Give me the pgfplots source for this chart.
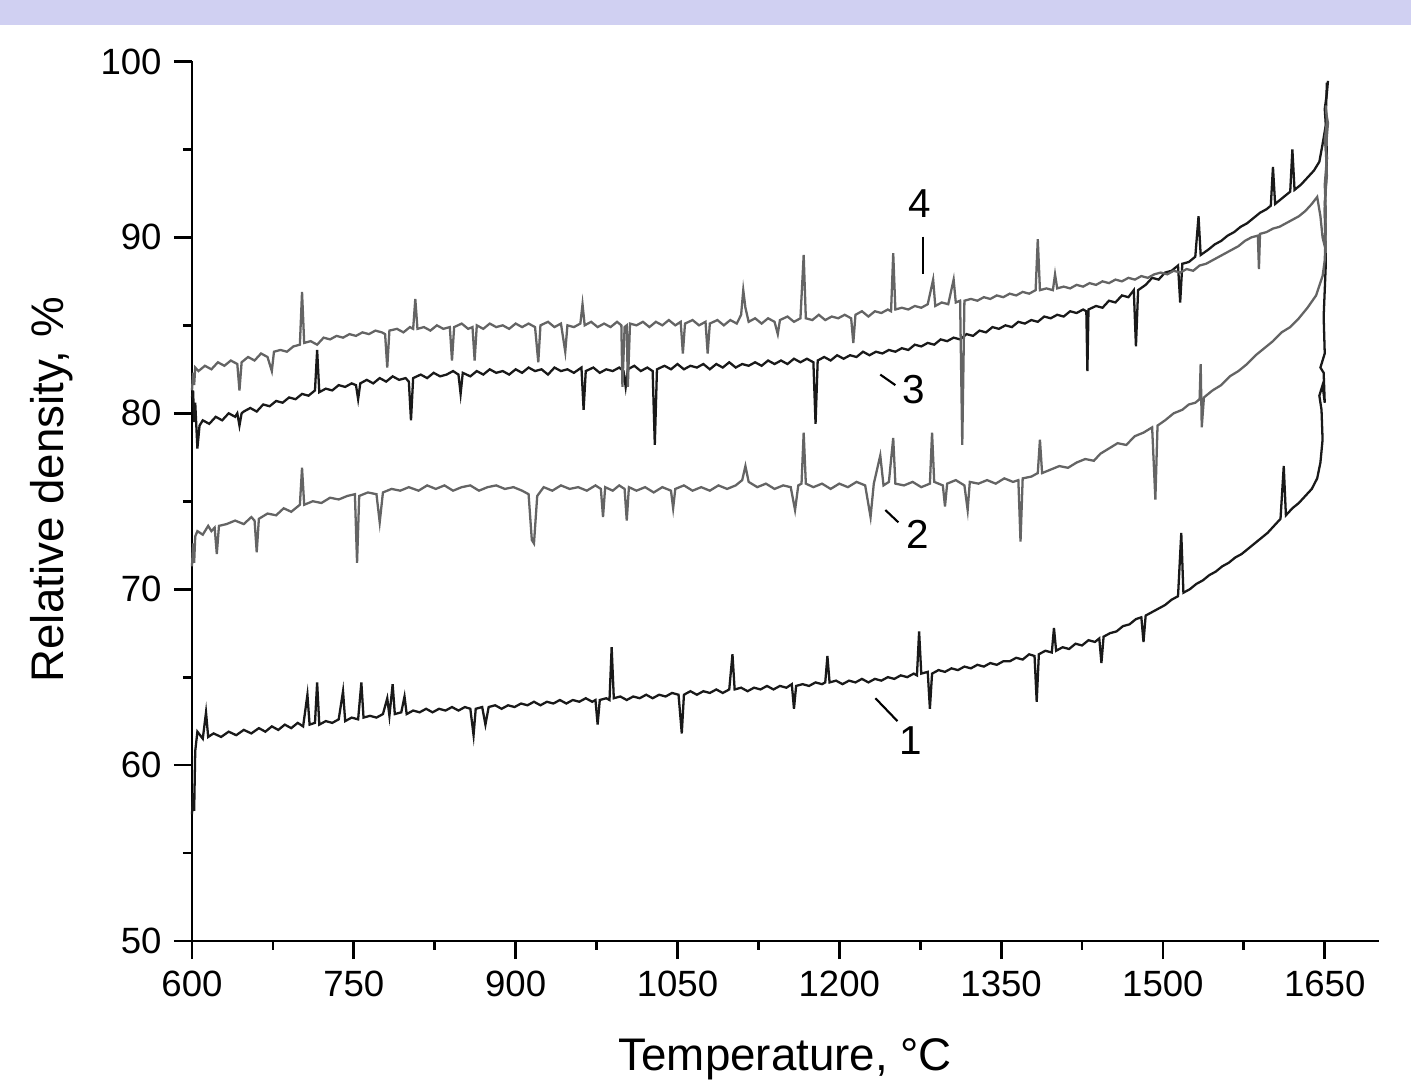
\documentclass[border=0pt]{standalone}
\usepackage{pgfplots}
\pgfplotsset{compat=1.18}
\usepackage{fontspec}
\setmainfont{Liberation Sans}
\definecolor{band}{RGB}{208,208,242}
\definecolor{cblack}{RGB}{25,25,25}
\definecolor{cgray}{RGB}{100,100,100}
\begin{document}
\begin{tikzpicture}
\begin{axis}[
  name=ax, scale only axis,
  width=11.86cm, height=8.79cm,
  xmin=600, xmax=1700, ymin=50, ymax=100,
  axis lines*=left,
  axis line style={line width=0.8pt},
  xtick={600,750,...,1650}, ytick={50,60,...,100},
  minor x tick num=1, minor y tick num=1,
  tick align=outside,
  major tick length=1.8mm, minor tick length=0.9mm,
  every tick/.style={line width=0.8pt, black},
  tick label style={font=\fontsize{10.4}{12}\selectfont},
  /pgf/number format/assume math mode=true,
  /pgf/number format/1000 sep={},
  xlabel={Temperature, °C}, ylabel={Relative density, \%},
  label style={font=\fontsize{13}{15}\selectfont},
  xlabel style={at={(axis description cs:0.5,-0.135)}, anchor=center},
  ylabel style={at={(axis description cs:-0.118,0.513)}, anchor=center},
  clip=false,
]
% curve 1
\addplot[cblack, line width=0.65pt] coordinates {
(600,57.2) (601,58.4) (602,57.4) (603,60.8) (605,61.9) (610,61.5) (613,63.0) (615,61.6) (620,61.8) (627,61.6) (634,61.9) (641,61.7) (648,62.0) (655,61.8) (662,62.1) (668,61.9) (674,62.2) (680,62.0) (686,62.3) (692,62.1) (698,62.4) (703,62.2) (707,64.0) (709,62.3) (714,62.4) (716,64.7) (718,62.3) (724,62.5) (730,62.4) (736,62.6) (740,64.2) (742,62.5) (748,62.7) (754,62.6) (757,64.7) (759,62.7) (765,62.8) (771,62.7) (777,62.9) (781,63.8) (783,62.8) (786,64.6) (788,62.9) (794,63.0) (797,63.9) (799,62.9)
(805,63.1) (811,63.0) (817,63.2) (823,63.0) (829,63.2) (835,63.1) (841,63.3) (847,63.1) (853,63.3) (858,63.2) (861,61.7) (863,63.2) (869,63.3) (872,62.3) (875,63.3) (881,63.4) (887,63.2) (893,63.4) (899,63.3) (905,63.5) (911,63.4) (917,63.6) (923,63.4) (929,63.6) (935,63.5) (941,63.7) (947,63.5) (953,63.7) (959,63.6) (965,63.8) (971,63.6) (974,63.7) (976,62.3) (978,63.7) (984,63.8) (987,63.7) (989,66.7) (991,63.8) (997,63.9)
(1003,63.7) (1009,63.9) (1015,63.8) (1021,64.0) (1027,63.8) (1033,64.0) (1039,63.9) (1045,64.1) (1051,64.0) (1054,61.8) (1056,64.0) (1062,64.2) (1068,64.0) (1074,64.2) (1080,64.1) (1086,64.3) (1092,64.1) (1098,64.3) (1101,66.3) (1103,64.3) (1109,64.4) (1115,64.2) (1121,64.4) (1127,64.3) (1133,64.5) (1139,64.3) (1145,64.5) (1151,64.4) (1156,64.6) (1158,63.2) (1160,64.5) (1166,64.6) (1172,64.5) (1178,64.7) (1184,64.6) (1187,64.7) (1189,66.2) (1191,64.7) (1197,64.8)
(1203,64.6) (1209,64.8) (1215,64.7) (1221,64.9) (1227,64.7) (1233,64.9) (1239,64.8) (1245,65.0) (1251,64.9) (1257,65.1) (1263,65.0) (1269,65.2) (1272,65.1) (1274,67.6) (1276,65.2) (1282,65.3) (1284,63.2) (1286,65.2) (1292,65.4) (1298,65.3) (1304,65.5) (1310,65.4) (1316,65.6) (1322,65.5) (1328,65.7) (1334,65.6) (1340,65.8) (1346,65.7) (1352,65.9) (1358,65.9) (1364,66.1) (1370,66.0) (1376,66.3) (1381,66.2) (1383,63.6) (1385,66.3) (1391,66.5) (1397,66.4) (1399,67.8)
(1401,66.5) (1407,66.7) (1413,66.6) (1419,66.9) (1425,66.8) (1431,67.1) (1437,67.0) (1441,67.2) (1443,65.8) (1445,67.3) (1451,67.5) (1457,67.6) (1463,67.9) (1469,68.0) (1475,68.3) (1480,68.4) (1482,67.0) (1484,68.5) (1490,68.7) (1496,68.9) (1502,69.1) (1508,69.4) (1514,69.6) (1517,73.2) (1519,69.8) (1525,70.0) (1531,70.3) (1537,70.5) (1543,70.8) (1549,71.0) (1555,71.3) (1561,71.5) (1567,71.8) (1573,72.0) (1579,72.3) (1585,72.6) (1591,72.9) (1597,73.2)
(1603,73.6) (1609,74.0) (1612,77.0) (1614,74.2) (1620,74.6) (1626,74.9) (1632,75.3) (1638,75.7) (1643,76.3) (1646,77.2) (1648,78.5) (1647,80.2) (1645,81.0) (1648,81.6) (1650,80.6) (1649,82.3) (1646,82.6) (1650,83.4) (1649,85.5) (1651,88.5) (1650,91.5) (1652,94.5) (1651,97.0) (1652,98.8)
};
% curve 2
\addplot[cgray, line width=0.65pt] coordinates {
(600,71.3) (601,72.6) (602,71.5) (603,73.0) (605,73.3) (610,73.1) (615,73.6) (618,73.3) (621,73.5) (623,72.0) (625,73.6) (632,73.7) (640,73.9) (648,73.7) (655,74.1) (658,73.9) (660,72.1) (662,74.0) (670,74.3) (678,74.2) (685,74.6) (692,74.4) (700,74.8) (702,76.9) (704,74.8) (712,75.0) (720,74.9) (728,75.2) (736,75.1) (744,75.3) (751,75.4) (753,71.5) (755,75.3) (763,75.5) (771,75.4) (774,73.8) (777,75.5) (785,75.7) (793,75.6)
(801,75.8) (810,75.6) (818,75.9) (826,75.7) (834,75.9) (842,75.6) (850,75.8) (858,75.9) (866,75.6) (874,75.8) (882,75.9) (890,75.7) (898,75.8) (906,75.6) (912,75.4) (915,72.8) (917,72.6) (920,75.3) (926,75.8) (934,75.6) (942,75.9) (950,75.7) (958,75.8) (966,75.6) (974,75.9) (979,75.7) (981,74.1) (983,75.8) (990,75.6) (996,75.9)
(1001,75.7) (1003,73.9) (1005,75.8) (1012,75.6) (1020,75.8) (1028,75.5) (1036,75.8) (1044,75.6) (1046,74.6) (1048,75.7) (1056,75.9) (1064,75.6) (1072,75.8) (1080,75.6) (1088,75.9) (1096,75.7) (1104,75.9) (1110,76.2) (1113,77.0) (1116,76.1) (1124,75.8) (1132,76.0) (1140,75.7) (1148,75.9) (1155,75.8) (1159,74.5) (1162,75.9) (1165,76.0) (1167,78.9) (1169,76.0) (1176,75.8) (1184,76.0) (1192,75.7)
(1200,76.0) (1208,75.8) (1216,76.1) (1224,75.9) (1229,74.1) (1232,76.0) (1238,77.6) (1241,75.9) (1246,76.1) (1250,78.6) (1252,76.0) (1260,75.9) (1268,76.1) (1276,75.8) (1284,76.0) (1286,78.9) (1288,76.1) (1296,75.9) (1298,74.7) (1300,76.0) (1308,76.2) (1316,75.9) (1319,74.5) (1321,76.1) (1329,76.0) (1337,76.2) (1345,76.0) (1353,76.3) (1361,76.1) (1366,76.2) (1368,72.7) (1370,76.3) (1378,76.4) (1384,76.6) (1386,78.5) (1388,76.6) (1396,76.8)
(1404,77.0) (1412,76.9) (1420,77.2) (1428,77.4) (1436,77.3) (1442,77.7) (1450,78.0) (1458,78.3) (1466,78.2) (1474,78.7) (1482,78.9) (1490,79.2) (1493,75.1) (1495,79.3) (1502,79.6) (1510,80.0) (1518,80.2) (1524,80.5) (1530,80.6) (1534,80.8) (1535,82.8) (1536,79.2) (1538,80.9) (1546,81.3) (1554,81.6) (1562,82.1) (1570,82.4) (1578,82.8) (1586,83.3) (1594,83.7)
(1602,84.1) (1610,84.6) (1618,84.9) (1626,85.4) (1634,86.0) (1642,86.7) (1648,87.8) (1650,88.7) (1651,90.5) (1650,92.0) (1652,93.5) (1651,95.0) (1653,96.5) (1651,97.2)
};
% curve 3
\addplot[cblack, line width=0.65pt] coordinates {
(600,80.9) (601,81.3) (602,79.5) (603,80.6) (605,78.0) (607,79.3) (610,79.6) (616,79.4) (622,79.8) (628,79.6) (634,80.0) (640,79.8) (642,80.0) (644,79.3) (646,80.0) (648,80.1) (654,80.3) (660,80.1) (666,80.5) (672,80.4) (678,80.7) (684,80.6) (690,80.9) (696,80.8) (702,81.1) (708,81.0) (714,81.3) (716,83.6) (718,81.2) (724,81.4) (730,81.3) (736,81.6) (742,81.5) (748,81.7) (752,81.6) (754,80.8) (756,81.7) (762,81.9) (768,81.7) (774,82.0) (780,81.8) (786,82.1) (792,81.9) (798,82.0)
(801,81.8) (803,79.6) (805,82.0) (812,82.2) (818,82.0) (824,82.3) (830,82.1) (836,82.2) (842,82.4) (847,82.2) (849,81.1) (851,82.3) (858,82.1) (864,82.4) (870,82.2) (876,82.5) (882,82.3) (888,82.4) (894,82.2) (900,82.5) (906,82.3) (912,82.6) (918,82.4) (924,82.5) (930,82.2) (936,82.6) (942,82.4) (948,82.5) (954,82.3) (961,82.6) (963,80.2) (965,82.4) (972,82.6) (978,82.3) (984,82.5) (990,82.4) (996,82.6)
(1000,82.4) (1002,81.5) (1004,82.5) (1010,82.7) (1016,82.4) (1022,82.6) (1027,82.4) (1029,78.2) (1031,82.5) (1038,82.7) (1044,82.5) (1050,82.8) (1056,82.5) (1062,82.7) (1068,82.6) (1074,82.8) (1080,82.5) (1086,82.8) (1092,82.6) (1098,82.9) (1104,82.6) (1110,82.8) (1116,82.7) (1122,82.9) (1128,82.7) (1134,83.0) (1140,82.8) (1146,83.0) (1152,82.8) (1158,83.1) (1164,82.9) (1170,83.1) (1176,82.9) (1178,79.4) (1180,83.0) (1186,83.2) (1192,83.0) (1198,83.3)
(1204,83.1) (1210,83.3) (1216,83.2) (1222,83.5) (1228,83.3) (1234,83.5) (1240,83.4) (1246,83.6) (1252,83.5) (1258,83.7) (1264,83.6) (1270,83.9) (1276,83.8) (1282,84.0) (1288,83.9) (1294,84.2) (1300,84.1) (1306,84.3) (1312,84.2) (1318,84.5) (1324,84.4) (1330,84.7) (1336,84.6) (1342,84.9) (1348,84.8) (1354,85.0) (1360,84.9) (1366,85.2) (1372,85.1) (1378,85.3) (1384,85.2) (1390,85.5) (1396,85.4)
(1402,85.6) (1408,85.5) (1414,85.8) (1420,85.7) (1426,85.9) (1429,85.8) (1430,82.4) (1431,85.9) (1438,86.1) (1444,86.0) (1450,86.4) (1456,86.3) (1462,86.7) (1468,86.6) (1473,87.0) (1475,83.8) (1477,87.0) (1484,87.3) (1490,87.7) (1496,87.6) (1502,88.0) (1508,88.1) (1514,88.4) (1516,86.3) (1518,88.5) (1524,88.6) (1530,88.9) (1533,91.2) (1535,89.0) (1542,89.3) (1548,89.6) (1554,89.8) (1560,90.1) (1566,90.3) (1572,90.6) (1578,90.8) (1584,91.1) (1590,91.4) (1596,91.6)
(1600,91.8) (1602,94.0) (1604,91.9) (1608,92.1) (1614,92.4) (1618,92.6) (1620,95.0) (1622,92.7) (1628,93.0) (1634,93.4) (1640,93.8) (1645,94.3) (1648,95.3) (1651,96.4) (1650,97.3) (1652,98.2) (1653,98.9)
};
% curve 4
\addplot[cgray, line width=0.65pt] coordinates {
(600,81.3) (601,82.3) (602,81.6) (603,82.6) (606,82.4) (612,82.7) (618,82.5) (624,82.9) (630,82.7) (636,83.0) (642,82.8) (644,81.3) (646,82.9) (652,83.2) (658,83.0) (664,83.4) (670,83.2) (674,82.4) (676,83.5) (682,83.6) (688,83.5) (694,83.8) (700,83.9) (702,86.9) (704,84.0) (710,84.1) (716,83.9) (722,84.3) (728,84.2) (734,84.4) (740,84.3) (746,84.5) (752,84.4) (758,84.6) (764,84.5) (770,84.7) (776,84.6) (779,84.5) (781,82.6) (783,84.7) (790,84.8) (796,84.6)
(802,84.9) (805,84.8) (807,86.5) (809,84.8) (815,84.9) (821,84.7) (827,85.0) (833,84.8) (839,84.9) (841,83.0) (843,84.9) (850,85.1) (856,84.8) (860,84.9) (862,83.0) (864,85.0) (870,84.8) (876,85.1) (882,84.9) (888,85.0) (894,84.8) (900,85.1) (906,84.9) (912,85.1) (918,84.9) (921,82.9) (923,85.0) (930,85.2) (936,84.9) (942,85.1) (946,83.5) (948,85.0) (954,84.9) (960,85.1) (962,86.2) (964,85.0) (970,85.2) (976,84.9) (982,85.1) (988,84.9) (994,85.2) (998,85.0)
(999,81.5) (1001,84.9) (1003,85.0) (1004,81.5) (1006,85.1) (1012,85.0) (1018,85.2) (1024,84.9) (1030,85.2) (1036,85.0) (1042,85.3) (1048,85.0) (1053,85.2) (1055,83.4) (1057,85.1) (1064,85.3) (1070,85.0) (1076,85.2) (1078,83.4) (1080,85.1) (1087,85.3) (1093,85.0) (1099,85.3) (1105,85.1) (1109,85.6) (1111,87.0) (1113,86.0) (1116,85.2) (1122,85.4) (1128,85.1) (1134,85.4) (1140,85.2) (1143,84.5) (1145,85.3) (1152,85.5) (1158,85.2) (1164,85.4) (1167,89.0) (1169,85.4) (1175,85.3) (1181,85.6) (1187,85.3) (1193,85.5) (1199,85.4)
(1205,85.6) (1211,85.4) (1213,84.0) (1215,85.6) (1221,85.8) (1227,85.5) (1233,85.8) (1239,85.7) (1245,85.9) (1248,85.8) (1250,89.1) (1252,85.9) (1258,86.0) (1264,85.9) (1270,86.1) (1276,86.0) (1282,86.2) (1287,87.6) (1289,86.1) (1295,86.3) (1301,86.2) (1306,87.6) (1308,86.3) (1312,86.4) (1314,78.2) (1316,86.4) (1322,86.5) (1328,86.4) (1334,86.6) (1340,86.5) (1346,86.7) (1352,86.6) (1358,86.8) (1364,86.7) (1370,86.9) (1376,86.8) (1382,87.0) (1384,89.9) (1386,87.0) (1392,87.1) (1398,87.0)
(1400,87.9) (1402,87.1) (1408,87.2) (1414,87.1) (1420,87.3) (1426,87.2) (1432,87.4) (1438,87.3) (1444,87.5) (1450,87.4) (1456,87.6) (1462,87.5) (1468,87.7) (1474,87.6) (1480,87.8) (1486,87.7) (1492,87.9) (1498,88.0) (1504,87.9) (1510,88.1) (1516,88.0) (1522,88.2) (1528,88.1) (1534,88.4) (1540,88.5) (1546,88.7) (1552,88.9) (1558,89.1) (1564,89.3) (1570,89.5) (1576,89.8) (1582,90.0) (1588,90.1) (1589,88.2) (1590,90.2) (1596,90.3)
(1602,90.5) (1608,90.6) (1614,90.8) (1620,91.0) (1626,91.2) (1632,91.5) (1638,91.9) (1643,92.3) (1646,91.2) (1648,90.0) (1650,89.5) (1651,91.5) (1650,93.0) (1652,94.5) (1650,95.5) (1652,96.6) (1651,97.5)
};
% curve labels
\node[font=\fontsize{11.5}{13}\selectfont] at (axis cs:1275,91.9) {4};
\draw[line width=0.6pt] (axis cs:1278,90.05) -- (axis cs:1278,87.9);
\node[font=\fontsize{11.5}{13}\selectfont] at (axis cs:1268.7,81.34) {3};
\draw[line width=0.6pt] (axis cs:1238,82.2) -- (axis cs:1252,81.6);
\node[font=\fontsize{11.5}{13}\selectfont] at (axis cs:1272.4,73.1) {2};
\draw[line width=0.6pt] (axis cs:1242.7,74.5) -- (axis cs:1254.8,73.8);
\node[font=\fontsize{11.5}{13}\selectfont] at (axis cs:1265.9,61.4) {1};
\draw[line width=0.6pt] (axis cs:1233.5,63.8) -- (axis cs:1253.9,62.5);
\end{axis}
\begin{scope}[shift={(ax.south west)}, x=0.01cm, y=-0.01cm]
\fill[band] (-192,-941) rectangle (1219,-916);
\pgfresetboundingbox
\path[use as bounding box] (-192,-941) rectangle (1219,150);
\end{scope}
\end{tikzpicture}
\end{document}
